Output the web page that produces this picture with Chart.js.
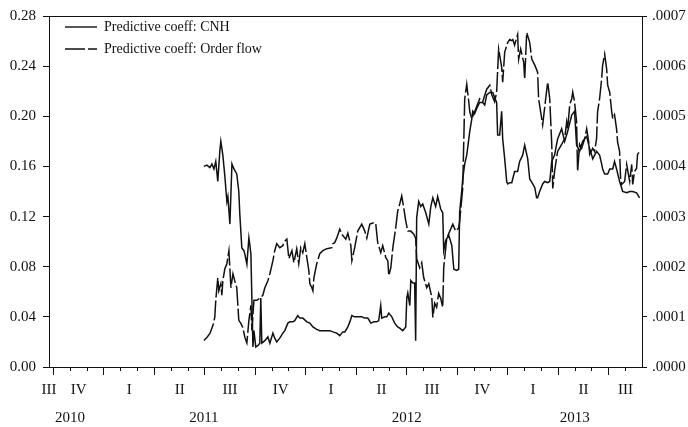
<!DOCTYPE html>
<html lang="en">
<head>
<meta charset="UTF-8">
<title>Predictive coefficients: CNH and order flow</title>
<script src="https://cdn.jsdelivr.net/npm/chart.js@4.4.1/dist/chart.umd.min.js"></script>
<style>
    html, body { margin: 0; padding: 0; background: #fff; }
    .chart-box { width: 688px; height: 427px; }
</style>
</head>
<body>
<div class="chart-box">
    <canvas id="coeffChart" width="688" height="427"></canvas>
</div>

<script>
// Dates are decimal years
const cnhDates = [
    2011.495, 2011.510, 2011.525, 2011.535, 2011.545, 2011.554, 2011.564, 2011.574, 2011.579, 2011.589,
    2011.599, 2011.609, 2011.614, 2011.624, 2011.634, 2011.644, 2011.658, 2011.668, 2011.673, 2011.683,
    2011.693, 2011.698, 2011.708, 2011.718, 2011.723, 2011.728, 2011.738, 2011.743, 2011.752, 2011.762,
    2011.772, 2011.777, 2011.782, 2011.797, 2011.812, 2011.822, 2011.837, 2011.846, 2011.856, 2011.871,
    2011.886, 2011.896, 2011.911, 2011.921, 2011.936, 2011.945, 2011.960, 2011.970, 2011.985, 2012.005,
    2012.020, 2012.035, 2012.054, 2012.069, 2012.084, 2012.104, 2012.119, 2012.134, 2012.153, 2012.168,
    2012.183, 2012.193, 2012.208, 2012.218, 2012.228, 2012.242, 2012.257, 2012.277, 2012.292, 2012.307,
    2012.322, 2012.337, 2012.351, 2012.361, 2012.371, 2012.376, 2012.391, 2012.401, 2012.411, 2012.426,
    2012.440, 2012.455, 2012.465, 2012.480, 2012.495, 2012.500, 2012.505, 2012.515, 2012.520, 2012.530,
    2012.539, 2012.544, 2012.549, 2012.559, 2012.569, 2012.579, 2012.594, 2012.609, 2012.619, 2012.629,
    2012.643, 2012.653, 2012.668, 2012.678, 2012.683, 2012.693, 2012.708, 2012.723, 2012.733, 2012.747,
    2012.757, 2012.762, 2012.772, 2012.777, 2012.787, 2012.797, 2012.812, 2012.822, 2012.827, 2012.836,
    2012.846, 2012.861, 2012.876, 2012.886, 2012.896, 2012.911, 2012.926, 2012.935, 2012.945, 2012.950,
    2012.960, 2012.970, 2012.975, 2012.985, 2012.995, 2013.000, 2013.010, 2013.020, 2013.034, 2013.049,
    2013.059, 2013.074, 2013.084, 2013.099, 2013.109, 2013.124, 2013.134, 2013.143, 2013.148, 2013.158,
    2013.173, 2013.183, 2013.198, 2013.208, 2013.218, 2013.232, 2013.247, 2013.267, 2013.282, 2013.297,
    2013.317, 2013.331, 2013.341, 2013.356, 2013.371, 2013.391, 2013.406, 2013.416, 2013.421, 2013.440,
    2013.455, 2013.465, 2013.470, 2013.480, 2013.495, 2013.505, 2013.520, 2013.529, 2013.539, 2013.554,
    2013.564, 2013.569, 2013.589, 2013.604, 2013.619, 2013.638, 2013.653
];
const cnhCoeff = [
    0.160, 0.161, 0.159, 0.162, 0.158, 0.164, 0.148, 0.172, 0.180, 0.169,
    0.152, 0.132, 0.136, 0.114, 0.162, 0.158, 0.154, 0.140, 0.122, 0.095,
    0.093, 0.090, 0.082, 0.103, 0.097, 0.090, 0.016, 0.029, 0.016, 0.017,
    0.019, 0.055, 0.019, 0.021, 0.024, 0.019, 0.027, 0.023, 0.020, 0.023,
    0.027, 0.029, 0.035, 0.036, 0.036, 0.037, 0.041, 0.039, 0.039, 0.036,
    0.035, 0.032, 0.030, 0.029, 0.029, 0.029, 0.029, 0.028, 0.027, 0.025,
    0.028, 0.028, 0.032, 0.036, 0.041, 0.040, 0.040, 0.040, 0.039, 0.039,
    0.035, 0.036, 0.036, 0.037, 0.049, 0.039, 0.040, 0.040, 0.043, 0.040,
    0.035, 0.032, 0.031, 0.029, 0.032, 0.055, 0.059, 0.049, 0.069, 0.067,
    0.067, 0.021, 0.119, 0.132, 0.128, 0.130, 0.123, 0.114, 0.128, 0.135,
    0.128, 0.136, 0.126, 0.123, 0.093, 0.101, 0.105, 0.097, 0.078, 0.077,
    0.078, 0.124, 0.140, 0.150, 0.162, 0.169, 0.188, 0.198, 0.204, 0.202,
    0.206, 0.211, 0.211, 0.209, 0.217, 0.219, 0.219, 0.215, 0.211, 0.185,
    0.185, 0.204, 0.182, 0.166, 0.148, 0.146, 0.147, 0.147, 0.156, 0.156,
    0.164, 0.169, 0.177, 0.166, 0.150, 0.146, 0.143, 0.135, 0.135, 0.140,
    0.146, 0.148, 0.147, 0.148, 0.164, 0.169, 0.182, 0.190, 0.180, 0.188,
    0.201, 0.204, 0.177, 0.172, 0.180, 0.184, 0.174, 0.169, 0.166, 0.172,
    0.169, 0.162, 0.158, 0.154, 0.154, 0.158, 0.158, 0.164, 0.158, 0.148,
    0.143, 0.140, 0.139, 0.140, 0.140, 0.139, 0.135
];

const flowDates = [
    2011.495, 2011.510, 2011.525, 2011.540, 2011.549, 2011.554, 2011.564, 2011.569, 2011.579, 2011.584,
    2011.589, 2011.599, 2011.609, 2011.619, 2011.629, 2011.639, 2011.648, 2011.658, 2011.668, 2011.678,
    2011.688, 2011.698, 2011.708, 2011.718, 2011.728, 2011.733, 2011.743, 2011.757, 2011.772, 2011.787,
    2011.797, 2011.812, 2011.822, 2011.837, 2011.846, 2011.856, 2011.871, 2011.886, 2011.896, 2011.906,
    2011.916, 2011.931, 2011.941, 2011.955, 2011.965, 2011.975, 2011.985, 2011.995, 2012.005, 2012.015,
    2012.020, 2012.030, 2012.035, 2012.040, 2012.054, 2012.069, 2012.084, 2012.104, 2012.129, 2012.134,
    2012.143, 2012.153, 2012.168, 2012.178, 2012.198, 2012.208, 2012.223, 2012.228, 2012.242, 2012.257,
    2012.277, 2012.292, 2012.302, 2012.317, 2012.332, 2012.346, 2012.356, 2012.371, 2012.381, 2012.396,
    2012.406, 2012.411, 2012.421, 2012.431, 2012.445, 2012.455, 2012.465, 2012.475, 2012.485, 2012.495,
    2012.505, 2012.520, 2012.535, 2012.544, 2012.549, 2012.564, 2012.574, 2012.584, 2012.599, 2012.609,
    2012.624, 2012.629, 2012.638, 2012.648, 2012.658, 2012.668, 2012.678, 2012.683, 2012.698, 2012.713,
    2012.728, 2012.742, 2012.757, 2012.762, 2012.777, 2012.787, 2012.797, 2012.807, 2012.812, 2012.822,
    2012.836, 2012.861, 2012.876, 2012.896, 2012.911, 2012.921, 2012.935, 2012.945, 2012.955, 2012.970,
    2012.975, 2012.985, 2013.000, 2013.010, 2013.020, 2013.025, 2013.034, 2013.049, 2013.054, 2013.064,
    2013.079, 2013.084, 2013.094, 2013.109, 2013.119, 2013.134, 2013.148, 2013.153, 2013.163, 2013.173,
    2013.188, 2013.198, 2013.208, 2013.218, 2013.223, 2013.232, 2013.247, 2013.267, 2013.282, 2013.292,
    2013.297, 2013.307, 2013.317, 2013.322, 2013.331, 2013.341, 2013.346, 2013.356, 2013.366, 2013.381,
    2013.391, 2013.401, 2013.406, 2013.421, 2013.430, 2013.440, 2013.445, 2013.455, 2013.465, 2013.470,
    2013.480, 2013.490, 2013.495, 2013.505, 2013.515, 2013.520, 2013.529, 2013.539, 2013.544, 2013.554,
    2013.559, 2013.564, 2013.579, 2013.589, 2013.604, 2013.614, 2013.619, 2013.628, 2013.638, 2013.643,
    2013.653
];
const flowCoeff = [
    0.000053, 0.000059, 0.000067, 0.000083, 0.000099, 0.000133, 0.000178, 0.000152, 0.000166, 0.000143,
    0.000172, 0.000196, 0.000206, 0.000232, 0.000158, 0.000186, 0.000172, 0.000158, 0.000093, 0.000087,
    0.000079, 0.000059, 0.000048, 0.000093, 0.000123, 0.000073, 0.000133, 0.000133, 0.000137, 0.000143,
    0.000158, 0.000172, 0.000186, 0.000212, 0.000232, 0.000246, 0.000238, 0.000242, 0.000251, 0.000255,
    0.000216, 0.000232, 0.000208, 0.000236, 0.000206, 0.000238, 0.000228, 0.000246, 0.000218, 0.000192,
    0.000166, 0.000158, 0.000152, 0.000178, 0.000206, 0.000226, 0.000232, 0.000236, 0.000238, 0.000246,
    0.000248, 0.000257, 0.000275, 0.000265, 0.000255, 0.000267, 0.000242, 0.000212, 0.000238, 0.000271,
    0.000285, 0.000271, 0.000257, 0.000285, 0.000287, 0.000287, 0.000248, 0.000228, 0.000242, 0.000218,
    0.000212, 0.000182, 0.000198, 0.000238, 0.000277, 0.000311, 0.000325, 0.000341, 0.000317, 0.000291,
    0.000271, 0.000271, 0.000265, 0.000257, 0.000216, 0.000198, 0.000208, 0.000178, 0.000158, 0.000166,
    0.000139, 0.000099, 0.000127, 0.000119, 0.000147, 0.000137, 0.000119, 0.000198, 0.000257, 0.000271,
    0.000285, 0.000271, 0.000277, 0.000291, 0.000356, 0.000535, 0.000564, 0.000529, 0.000509, 0.000495,
    0.000509, 0.000535, 0.000529, 0.000554, 0.000562, 0.000543, 0.000529, 0.000548, 0.000634, 0.000598,
    0.000568, 0.000628, 0.000647, 0.000653, 0.000651, 0.000653, 0.000642, 0.000663, 0.000614, 0.000634,
    0.000608, 0.000574, 0.000667, 0.000647, 0.000614, 0.000602, 0.000588, 0.000535, 0.000509, 0.000483,
    0.000535, 0.000568, 0.000535, 0.000444, 0.000356, 0.000390, 0.000430, 0.000444, 0.000455, 0.000489,
    0.000475, 0.000523, 0.000535, 0.000548, 0.000529, 0.000489, 0.000390, 0.000444, 0.000436, 0.000455,
    0.000475, 0.000449, 0.000424, 0.000436, 0.000430, 0.000455, 0.000509, 0.000535, 0.000574, 0.000602,
    0.000624, 0.000594, 0.000562, 0.000548, 0.000509, 0.000495, 0.000503, 0.000475, 0.000449, 0.000430,
    0.000376, 0.000364, 0.000370, 0.000404, 0.000370, 0.000404, 0.000364, 0.000390, 0.000396, 0.000424,
    0.000430
];

const leftTicks = [0, 0.04, 0.08, 0.12, 0.16, 0.20, 0.24, 0.28];
const rightTicks = [0, 0.0001, 0.0002, 0.0003, 0.0004, 0.0005, 0.0006, 0.0007];
const quarterLabels = ['III', 'IV', 'I', 'II', 'III', 'IV', 'I', 'II', 'III', 'IV', 'I', 'II', 'III'];
const quarterCentres = [2010.728, 2010.875, 2011.125, 2011.375, 2011.625, 2011.875,
                        2012.125, 2012.375, 2012.625, 2012.875, 2013.125, 2013.375, 2013.583];
const yearLabels = ['2010', '2011', '2012', '2013'];
const yearCentres = [2010.832, 2011.495, 2012.5, 2013.332];

const xMin = 2010.728;
const xMax = 2013.665;

const ink = '#111111';
const serif = "'Liberation Serif', 'Times New Roman', Times, serif";

Chart.defaults.font.family = serif;
Chart.defaults.font.size = 15;
Chart.defaults.color = ink;

// month ticks along the date axis, the quarter ones are drawn longer
const monthTicks = [];
const quarterTicks = [];
for (let k = 0; k < 48; k++) {
    const t = 2010 + k / 12;
    if (t < xMin || t > xMax) continue;
    monthTicks.push(t);
    if (k % 3 === 0) quarterTicks.push(t);
}

const asTicks = arr => arr.map(v => ({ value: v }));

// little line sample for the legend, with a blank margin on its left
function legendSample(dash) {
    const c = document.createElement('canvas');
    c.width = 40;
    c.height = 6;
    const g = c.getContext('2d');
    g.strokeStyle = ink;
    g.lineWidth = 1.4;
    g.setLineDash(dash);
    g.beginPath();
    g.moveTo(8, 3);
    g.lineTo(40, 3);
    g.stroke();
    return c;
}

// extra date axes sitting on the bottom edge (y = 0)
function labelAxis(values, labels, pad) {
    return {
        type: 'linear',
        position: { y: 0 },
        min: xMin,
        max: xMax,
        afterBuildTicks: s => { s.ticks = asTicks(values); },
        ticks: {
            autoSkip: false,
            maxRotation: 0,
            minRotation: 0,
            padding: pad,
            callback: (v, i) => labels[i]
        },
        grid: { display: false, drawTicks: false },
        border: { display: false }
    };
}

const ctx = document.getElementById('coeffChart');
const coeffChart = new Chart(ctx, {
    type: 'line',
    data: {
        datasets: [{
            label: 'Predictive coeff: CNH',
            data: cnhDates.map((d, i) => ({ x: d, y: cnhCoeff[i] })),
            xAxisID: 'x',
            yAxisID: 'y',
            borderColor: ink,
            borderWidth: 1.5,
            pointRadius: 0,
            pointStyle: legendSample([]),
            fill: false,
            tension: 0
        }, {
            label: 'Predictive coeff: Order flow',
            data: flowDates.map((d, i) => ({ x: d, y: flowCoeff[i] })),
            xAxisID: 'x',
            yAxisID: 'y2',
            borderColor: ink,
            borderWidth: 1.5,
            borderDash: [20, 3],
            pointRadius: 0,
            pointStyle: legendSample([20, 3]),
            fill: false,
            tension: 0
        }]
    },
    options: {
        responsive: false,
        animation: false,
        events: [],
        layout: { padding: { top: 13, left: 0, right: 0, bottom: 0 } },
        scales: {
            x: {
                type: 'linear',
                position: 'bottom',
                min: xMin,
                max: xMax,
                afterBuildTicks: s => { s.ticks = asTicks(monthTicks); },
                afterFit: s => { s.height = 60; },
                ticks: { display: false },
                grid: { drawOnChartArea: false, tickLength: 4, color: ink, lineWidth: 1 },
                border: { color: ink, width: 1 }
            },
            xMajor: {
                type: 'linear',
                position: { y: 0 },
                min: xMin,
                max: xMax,
                afterBuildTicks: s => { s.ticks = asTicks(quarterTicks); },
                ticks: { display: false },
                grid: { drawOnChartArea: false, tickLength: 8, color: ink, lineWidth: 1 },
                border: { display: false }
            },
            xQuarter: labelAxis(quarterCentres, quarterLabels, 14),
            xYear: labelAxis(yearCentres, yearLabels, 42),
            xTop: {
                type: 'linear',
                position: 'top',
                min: xMin,
                max: xMax,
                afterFit: s => { s.height = 0; },
                ticks: { display: false },
                grid: { display: false, drawTicks: false },
                border: { color: ink, width: 1 }
            },
            y: {
                position: 'left',
                min: 0,
                max: 0.28,
                afterBuildTicks: s => { s.ticks = asTicks(leftTicks); },
                afterFit: s => { s.width = 49; },
                ticks: { padding: 7, callback: v => v.toFixed(2) },
                grid: { drawOnChartArea: false, tickLength: 6, color: ink },
                border: { color: ink, width: 1 }
            },
            y2: {
                position: 'right',
                min: 0,
                max: 0.0007,
                afterBuildTicks: s => { s.ticks = asTicks(rightTicks); },
                afterFit: s => { s.width = 46; },
                ticks: { padding: 5, callback: v => v.toFixed(4).replace(/^0/, '') },
                grid: { drawOnChartArea: false, tickLength: 5, color: ink },
                border: { color: ink, width: 1 }
            }
        },
        plugins: {
            legend: {
                position: 'chartArea',
                align: 'start',
                title: { display: true, text: '', padding: 0, font: { size: 10 } },
                labels: {
                    usePointStyle: true,
                    pointStyleWidth: 40,
                    padding: 8,
                    color: ink,
                    font: { family: serif, size: 14 }
                }
            },
            tooltip: { enabled: false }
        }
    }
});
</script>
</body>
</html>
